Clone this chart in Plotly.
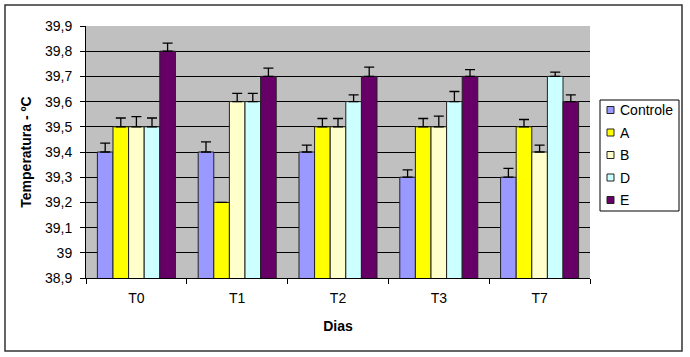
import plotly.graph_objects as go

categories = ["T0", "T1", "T2", "T3", "T7"]
series_names = ["Controle", "A", "B", "D", "E"]
controle = [39.4, 39.4, 39.4, 39.3, 39.3]
grupo_a = [39.5, 39.2, 39.5, 39.5, 39.5]
grupo_b = [39.5, 39.6, 39.5, 39.5, 39.4]
grupo_d = [39.5, 39.6, 39.6, 39.6, 39.7]
grupo_e = [39.8, 39.7, 39.7, 39.7, 39.6]
err_controle = [0.035, 0.04, 0.027, 0.029, 0.035]
err_a = [0.035, 0.0, 0.033, 0.033, 0.029]
err_b = [0.04, 0.033, 0.033, 0.042, 0.027]
err_d = [0.035, 0.033, 0.027, 0.04, 0.017]
err_e = [0.032, 0.033, 0.037, 0.027, 0.027]
y_tickvals = [38.9, 39.0, 39.1, 39.2, 39.3, 39.4, 39.5, 39.6, 39.7, 39.8, 39.9]
y_ticktext = ["38,9", "39", "39,1", "39,2", "39,3", "39,4", "39,5", "39,6", "39,7", "39,8", "39,9"]

values = [controle, grupo_a, grupo_b, grupo_d, grupo_e]
errors = [err_controle, err_a, err_b, err_d, err_e]
colors = ["#9999FF", "#FFFF00", "#FFFFCC", "#CCFFFF", "#660066"]

FONT = "Liberation Sans, Arial, sans-serif"
W, H = 690, 357
ML, MR, MT, MB = 86, 100, 26, 79
PW, PH = W - ML - MR, H - MT - MB


def px_x(px):
    return (px - ML) / PW


def px_y(py):
    return (H - MB - py) / PH


fig = go.Figure()
for name, vals, errs, col in zip(series_names, values, errors, colors):
    fig.add_trace(go.Bar(
        name=name, x=categories, y=vals,
        marker=dict(color=col, line=dict(color="#222222", width=1)),
        error_y=dict(type="data", array=errs, symmetric=False, arrayminus=[0] * len(errs),
                     color="#000000", thickness=1.3, width=5),
        showlegend=False,
    ))

fig.update_layout(
    width=W, height=H,
    margin=dict(l=ML, r=MR, t=MT, b=MB, autoexpand=False),
    paper_bgcolor="white",
    plot_bgcolor="#C0C0C0",
    barmode="group",
    bargap=0.226,
    bargroupgap=0,
    separators=",.",
    font=dict(family=FONT, size=14, color="black"),
    showlegend=False,
    xaxis=dict(
        type="category", automargin=False,
        showline=True, linecolor="black", linewidth=1,
        ticks="outside", tickson="boundaries", ticklen=5, tickcolor="black",
        ticklabelstandoff=7,
        showgrid=False,
        tickfont=dict(family=FONT, size=14),
        title=dict(text="<b>Dias</b>", font=dict(family=FONT, size=14), standoff=16),
    ),
    yaxis=dict(
        range=[38.9, 39.9], automargin=False,
        tickvals=y_tickvals, ticktext=y_ticktext,
        showline=True, linecolor="black", linewidth=1,
        ticks="outside", ticklen=5, tickcolor="black",
        ticklabelstandoff=5,
        showgrid=True, gridcolor="black", gridwidth=1,
        zeroline=False,
        tickfont=dict(family=FONT, size=14),
        title=dict(text="<b>Temperatura - ºC</b>", font=dict(family=FONT, size=14), standoff=10),
    ),
)

# outer chart frame
fig.add_shape(type="rect", xref="paper", yref="paper",
              x0=px_x(5), x1=px_x(682), y0=px_y(351), y1=px_y(5),
              line=dict(color="#333333", width=1.5), fillcolor="rgba(0,0,0,0)", layer="below")

# legend box (drawn manually to match the compact Excel legend)
fig.add_shape(type="rect", xref="paper", yref="paper",
              x0=px_x(600), x1=px_x(679), y0=px_y(211), y1=px_y(100),
              line=dict(color="black", width=1), fillcolor="white", layer="above")
for i, (name, col) in enumerate(zip(series_names, colors)):
    cy = 110 + i * 22.5
    fig.add_shape(type="rect", xref="paper", yref="paper",
                  x0=px_x(607), x1=px_x(614), y0=px_y(cy + 3.5), y1=px_y(cy - 3.5),
                  line=dict(color="#222222", width=1), fillcolor=col, layer="above")
    fig.add_annotation(xref="paper", yref="paper", x=px_x(618), y=px_y(cy),
                       text=name, showarrow=False, xanchor="left", yanchor="middle",
                       font=dict(family=FONT, size=14, color="black"))

fig.write_html("out.html", config={"displayModeBar": False},
               post_script="document.body.style.margin='0';document.body.style.padding='0';")
